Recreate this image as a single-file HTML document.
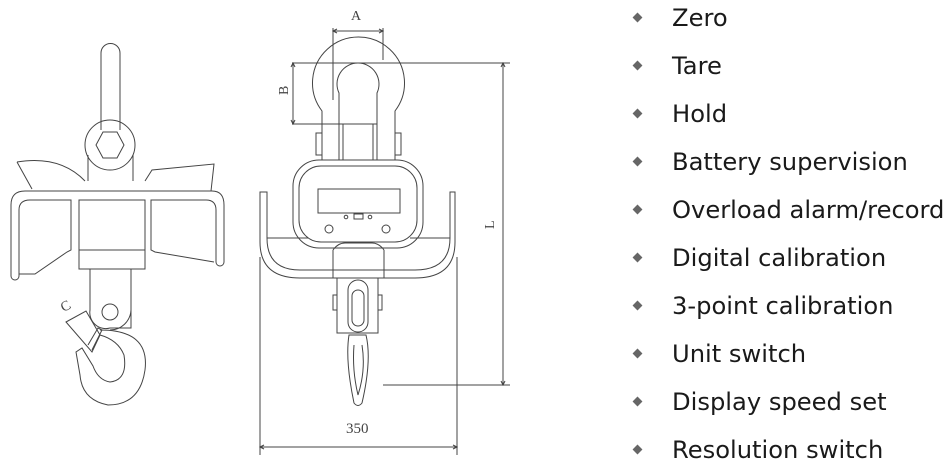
<!DOCTYPE html>
<html><head><style>
html,body{margin:0;padding:0;background:#fff;width:952px;height:468px;overflow:hidden}
.t{position:absolute;left:672px;font-family:"DejaVu Sans","Liberation Sans",sans-serif;font-size:24.2px;color:#1a1a1a;line-height:30px}
.b{position:absolute;left:634px;width:7px;height:7px;background:#666;transform:rotate(45deg)}
</style></head><body>
<svg width="952" height="468" style="position:absolute;left:0;top:0" fill="none" stroke="#444" stroke-width="1">
<!-- LEFT DRAWING -->
<path d="M101,130 V53 A9.5,9.5 0 0 1 120,53 V130"/>
<circle cx="110" cy="145" r="25"/>
<polygon points="103,132 117,132 124,145 117,158 103,158 96,145"/>
<path d="M88,155 V181 M133,155 V181"/>
<path d="M17,162 Q60,155 85,181 M17,162 L32,189"/>
<path d="M145,181 L152,170 L214,164 L211,191"/>
<path d="M11,276 V205 Q11,191 25,191 H212 Q224,191 224,205 V262 A4,4 0 0 1 216,262 V210 Q216,200 206,200 H151 V250 L155,252 L214,262"/>
<path d="M11,276 A4,4 0 0 0 19,276 V210 Q19,200 30,200 H71 V250 L67,252 L35,274 L19,274"/>
<rect x="79" y="200" width="66" height="50"/>
<rect x="79" y="250" width="66" height="19"/>
<path d="M90,269 V310 A16,16 0 0 0 110,328 H131 V269"/>
<path d="M131,310 A21,21 0 0 1 110,330"/>
<circle cx="110" cy="312" r="8"/>
<path d="M100,330 Q150,330 145,370 Q140,405 108,405 Q82,400 80,375 L76,352 L82,348 L93,366 Q98,380 110,382 Q128,380 124,355 Q118,340 100,335"/>
<path d="M66,322 L86,311 L100,335 L92,352 Z"/>
<path d="M88,345 L98,328 L102,330 L92,350"/>
<text x="60" y="310" font-family="Liberation Serif" font-size="14" fill="#444" stroke="none" transform="rotate(-30 66 304)">C</text>
<!-- MIDDLE DRAWING -->
<path d="M322,160 V111 A46,46 0 1 1 395,111 V160"/>
<path d="M339,124 V93 A21,21 0 1 1 377,93 V124"/>
<path d="M339,124 V160 M377,124 V160 M343,124 V160 M373,124 V160 M336,124 H377"/>
<rect x="316" y="133" width="6" height="22"/><rect x="395" y="133" width="6" height="22"/>
<rect x="293" y="160" width="130" height="88" rx="26" fill="#fff"/>
<rect x="299" y="166" width="118" height="76" rx="22"/>
<rect x="318" y="189" width="82" height="24"/>
<circle cx="329" cy="229" r="4"/><circle cx="386" cy="229" r="4"/>
<circle cx="346" cy="217" r="1.8"/><circle cx="370" cy="217" r="1.8"/>
<rect x="354" y="214" width="9" height="5"/>
<path d="M260,192 V242 Q260,278 300,278 H415 Q455,278 455,242 V192 H450 V238 Q450,270 415,270 H300 Q267,270 267,238 V192 Z"/>
<path d="M267,238 H308 M450,238 H410"/>
<path d="M333,250 Q338,243 345,243 H372 Q379,243 384,250"/>
<path d="M333,250 V278 M384,250 V278"/>
<path d="M337,278 V333 H378 V278"/>
<rect x="333" y="295" width="4" height="15"/><rect x="378" y="295" width="4" height="15"/>
<rect x="348" y="280" width="20" height="52" rx="10"/>
<rect x="352" y="290" width="12" height="36" rx="6"/>
<path d="M349,335 Q345,360 354,403 Q358,408 362,403 Q372,360 366,335 Z"/>
<path d="M354,345 Q352,370 358,395 M362,345 Q366,370 358,395"/>
<!-- dimensions -->
<path d="M333,28 V100 M383,28 V60 M333,31 H383"/>
<path d="M337,29 L333,31 L337,33 M379,29 L383,31 L379,33" />
<text x="351" y="20" font-family="Liberation Serif" font-size="14" fill="#444" stroke="none">A</text>
<path d="M292,63 H510 M292,124 H373 M293,63 V124"/>
<path d="M291,67 L293,63 L295,67 M291,120 L293,124 L295,120"/>
<text x="283" y="100" font-family="Liberation Serif" font-size="14" fill="#444" stroke="none" transform="rotate(-90 283 95)">B</text>
<path d="M503,63 V385 M383,385 H510 M501,67 L503,63 L505,67 M501,381 L503,385 L505,381"/>
<text x="486" y="229" font-family="Liberation Serif" font-size="14" fill="#444" stroke="none" transform="rotate(-90 490 225)">L</text>
<path d="M260,257 V455 M457,257 V455 M260,447 H457 M264,445 L260,447 L264,449 M453,445 L457,447 L453,449"/>
<text x="346" y="433" font-family="Liberation Serif" font-size="15" fill="#444" stroke="none">350</text>
</svg>
<div class="b" style="top:14px"></div><div class="t" style="top:3px">Zero</div>
<div class="b" style="top:62px"></div><div class="t" style="top:51px">Tare</div>
<div class="b" style="top:110px"></div><div class="t" style="top:99px">Hold</div>
<div class="b" style="top:158px"></div><div class="t" style="top:147px">Battery supervision</div>
<div class="b" style="top:206px"></div><div class="t" style="top:195px">Overload alarm/record</div>
<div class="b" style="top:254px"></div><div class="t" style="top:243px">Digital calibration</div>
<div class="b" style="top:302px"></div><div class="t" style="top:291px">3-point calibration</div>
<div class="b" style="top:350px"></div><div class="t" style="top:339px">Unit switch</div>
<div class="b" style="top:398px"></div><div class="t" style="top:387px">Display speed set</div>
<div class="b" style="top:446px"></div><div class="t" style="top:435px">Resolution switch</div>
</body></html>
